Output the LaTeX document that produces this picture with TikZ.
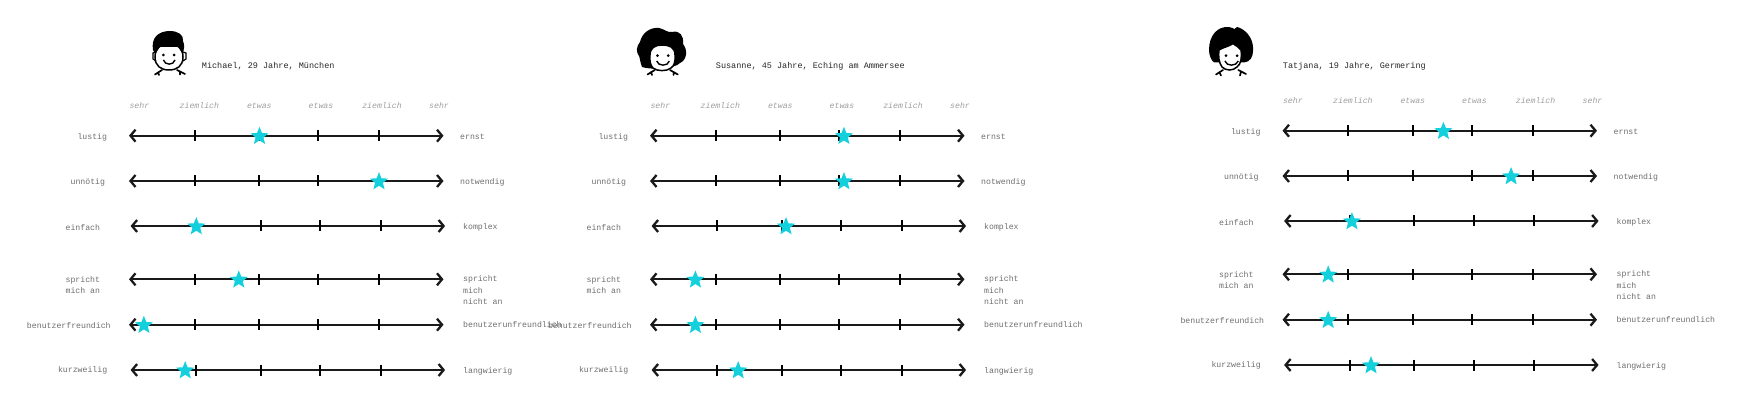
\documentclass[tikz,border=0pt]{standalone}
\usepackage{fontspec}
\setmainfont{Liberation Mono}
\usetikzlibrary{arrows.meta,shapes.geometric}
\definecolor{sterncolor}{HTML}{14CFDC}
\definecolor{linecolor}{HTML}{1A1A1A}
\definecolor{labelcolor}{HTML}{6E6E6E}
\definecolor{topcolor}{HTML}{9E9E9E}
\tikzset{
  skala/.style={line width=2.3pt,linecolor,{Straight Barb[length=5pt,width=12pt]}-{Straight Barb[length=5pt,width=12pt]}},
  strich/.style={line width=2pt,black},
  stern/.style={star,star points=5,star point ratio=2.3,fill=sterncolor,inner sep=0pt,minimum size=19pt},
  label/.style={anchor=west,inner sep=0pt,align=left,labelcolor,font=\fontsize{8.2}{11.5}\selectfont},
  einzeilig/.style={label,text height=8.5pt,text depth=1.5pt},
  grad/.style={inner sep=0pt,topcolor,text height=8pt,text depth=2pt,font=\fontsize{8.2}{10}\selectfont\itshape},
  titel/.style={anchor=west,inner sep=0pt,black!85,text height=8pt,text depth=2pt,font=\fontsize{8.5}{10}\selectfont},
  kopf/.style={line width=1.5pt,black,fill=white},
  hals/.style={line width=1.7pt,black,line cap=round},
}
% one scale: arrow, four ticks, star
\newcommand{\zeile}[4]{
  \coordinate (#1-l) at (#2,#3);
  \coordinate (#1-r) at (#2+314.5,#3);
  \draw[skala] (#1-l) -- (#1-r);
  \foreach \t in {65.8,130,189.4,250} \draw[strich] (#2+\t,#3-5.5) -- ++(0,11);
  \node[stern] (#1-s) at (#4,#3+0.6) {};
}
\begin{document}
\begin{tikzpicture}[x=1pt,y=-1pt]
  \useasboundingbox (0,0) rectangle (1756,403);

  % Michael
  \draw[kopf] (169,44) .. controls (160,44) and (155,49) .. (155,57) .. controls (155,66) and (161,70) .. (169,70)
    .. controls (177,70) and (183,66) .. (183,57) .. controls (183,49) and (178,44) .. (169,44) -- cycle;
  \fill (153,50) .. controls (151,38) and (158,31) .. (170,31) .. controls (178,31) and (184,35) .. (183,41)
    .. controls (185,45) and (184,50) .. (182.5,54) -- (179,47) -- (159,47) -- (155.5,54) -- cycle;
  \draw[line width=1.2pt] (155,52) -- ++(-2,1) -- ++(0,6) -- ++(3,2);
  \draw[line width=1.2pt] (183,52) -- ++(3,1) -- ++(0,6) -- ++(-3,2);
  \fill (163.4,55) circle (1.5) (174.1,55) circle (1.5);
  \draw[line width=1.4pt] (163.4,60) .. controls (165,65.5) and (173.5,65.5) .. (175,60);
  \draw[hals] (162,70) -- (155,74.5) (158,72.5) -- (159,75);
  \draw[hals] (177,70) -- (185,74) (180,72) -- (180,74.5);

  % Susanne
  \fill (640,42) .. controls (642,33) and (650,27) .. (659,28) .. controls (664,29) and (668,33) .. (672,32)
    .. controls (680,30) and (684,36) .. (683,44) .. controls (688,50) and (687,60) .. (680,63)
    .. controls (675,69) and (650,70) .. (642,67) .. controls (640,62) and (640,58) .. (639,56)
    .. controls (636,52) and (636,47) .. (640,42) -- cycle;
  \draw[kopf] (662,45) .. controls (669,45) and (675,47) .. (675,55) .. controls (675.5,62) and (674,66) .. (671,68)
    .. controls (667,71.5) and (657,71.5) .. (653,68) .. controls (650,65) and (649.5,60) .. (650,55)
    .. controls (650,48) and (655,45) .. (662,45) -- cycle;
  \fill (657.5,55.7) circle (1.5) (668.2,55.7) circle (1.5);
  \draw[line width=1.4pt] (656.7,61) .. controls (658,66.5) and (668,66.5) .. (669.4,61);
  \draw[hals] (654.8,70) -- (647.5,74.5) (651,72) -- (652,75);
  \draw[hals] (670,70) -- (677.8,74.5) (674,72) -- (673.5,75);

  % Tatjana
  \fill (1209,50) .. controls (1209,36) and (1217,26) .. (1229,27) .. controls (1232,27) and (1233,29) .. (1234.5,29)
    .. controls (1236,27) and (1238,26) .. (1240,28) .. controls (1249,32) and (1254,42) .. (1253,51)
    .. controls (1253,57) and (1250,62) .. (1244,62.5) -- (1214,62.5) .. controls (1211,60) and (1209,55) .. (1209,50) -- cycle;
  \draw[kopf] (1219,50) .. controls (1224,47) and (1230,46) .. (1233,43.5) .. controls (1236,46) and (1239,47) .. (1241,50)
    .. controls (1242,58) and (1241,64) .. (1237,67) .. controls (1233,71) and (1226,71) .. (1222,67)
    .. controls (1219,63) and (1218,56) .. (1219,50) -- cycle;
  \fill (1226,55.7) circle (1.5) (1237.1,55.7) circle (1.5);
  \draw[line width=1.4pt] (1224.9,61) .. controls (1226.5,66.5) and (1236.5,66.5) .. (1238.3,61);
  \draw[hals] (1223,70) -- (1216,74.5) (1219.5,72.5) -- (1221,75.5);
  \draw[hals] (1238.3,70) -- (1246,74) (1241,71.5) -- (1240,75.5);

  \node[titel] (titel-a) at (201.7,66) {Michael, 29 Jahre, München};
  \node[titel] (titel-b) at (715.7,66) {Susanne, 45 Jahre, Eching am Ammersee};
  \node[titel] (titel-c) at (1282.7,66) {Tatjana, 19 Jahre, Germering};

  % the three panels with star positions
  \foreach \p/\dx/\dy/\sa/\sb/\sc/\sd/\se/\sf in {
      a/0/0/259.5/379/196.3/238.8/143.9/185.2,
      b/521/0/322.9/322.9/265/174.4/174.4/217.2,
      c/1153.5/-5/289.9/357.6/198.4/174.7/174.7/217.5} {
    \begin{scope}[shift={(\dx,\dy)}]
      \node[grad] (\p-g1) at (139.4,105.3) {sehr};
      \node[grad] (\p-g2) at (199.4,105.3) {ziemlich};
      \node[grad] (\p-g3) at (259.3,105.3) {etwas};
      \node[grad] (\p-g4) at (321,105.3) {etwas};
      \node[grad] (\p-g5) at (382,105.3) {ziemlich};
      \node[grad] (\p-g6) at (439,105.3) {sehr};

      \zeile{\p1}{129}{135.7}{\sa}
      \zeile{\p2}{129}{181}{\sb}
      \zeile{\p3}{130.6}{226}{\sc}
      \zeile{\p4}{129}{279.3}{\sd}
      \zeile{\p5}{129}{324.7}{\se}
      \zeile{\p6}{130.6}{370}{\sf}

      \node[einzeilig] (\p-l1) at (77.3,136) {lustig};
      \node[einzeilig] (\p-l2) at (70.4,181.3) {unnötig};
      \node[einzeilig] (\p-l3) at (65.4,227) {einfach};
      \node[label] (\p-l4) at (65.4,285.3) {spricht\\mich an};
      \node[einzeilig] (\p-l5) at (26.8,325) {benutzerfreundich};
      \node[einzeilig] (\p-l6) at (57.8,369) {kurzweilig};

      \node[einzeilig] (\p-r1) at (460,136) {ernst};
      \node[einzeilig] (\p-r2) at (460,181.3) {notwendig};
      \node[einzeilig] (\p-r3) at (463,226.3) {komplex};
      \node[label] (\p-r4) at (463,290.3) {spricht\\mich\\nicht an};
      \node[einzeilig] (\p-r5) at (463,324.3) {benutzerunfreundlich};
      \node[einzeilig] (\p-r6) at (463,370.3) {langwierig};
    \end{scope}
  }
\end{tikzpicture}
\end{document}
